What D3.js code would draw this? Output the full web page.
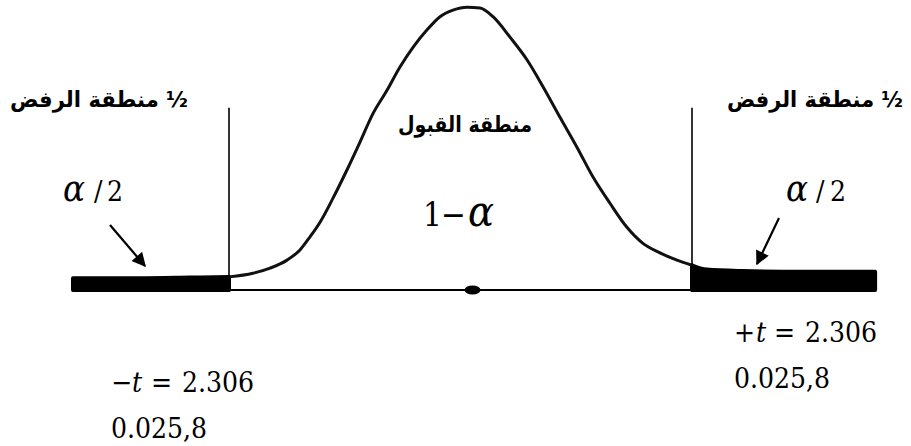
<!DOCTYPE html>
<html><head><meta charset="utf-8">
<script src="https://cdn.jsdelivr.net/npm/d3@7"></script>
<style>body{margin:0;background:#fff}svg{display:block}</style>
</head><body>
<svg id="chart" width="911" height="446"></svg>
<script>
// t distribution with 8 degrees of freedom, two-tailed test at alpha = 0.05
const criticalT = [-2.306, 2.306];

// density of the curve across the acceptance region
const curveT = [-2.306, -2.067, -1.897, -1.728, -1.599, -1.499, -1.399, -1.270, -1.130, -1.001,
  -0.872, -0.732, -0.603, -0.473, -0.333, -0.204, -0.075, 0.065, 0.194, 0.324,
  0.493, 0.662, 0.822, 0.991, 1.160, 1.320, 1.489, 1.658, 1.817, 1.987, 2.156, 2.306];
const curveDensity = [0.018, 0.023, 0.030, 0.041, 0.055, 0.073, 0.093, 0.126, 0.165, 0.203,
  0.242, 0.274, 0.306, 0.333, 0.357, 0.375, 0.384, 0.388, 0.387, 0.375,
  0.347, 0.316, 0.279, 0.237, 0.196, 0.155, 0.119, 0.086, 0.064, 0.051, 0.041, 0.034];

// rejection tails (shaded)
const leftTailT = [-3.86, -3.2, -2.7, -2.306];
const leftTailDensity = [0.016, 0.016, 0.017, 0.018];
const rightTailT = [2.306, 2.45, 2.8, 3.4, 4.13];
const rightTailDensity = [0.034, 0.028, 0.026, 0.025, 0.025];

// centre marker on the axis and the height of the critical-value lines
const meanT = 0.12;
const criticalLineTop = 0.25;

// texts
const rejectLabel = "½ منطقة الرفض";
const acceptLabel = "منطقة القبول";
const confidenceLabel = ["1", "−", "α"];
const tailAreaLabel = ["α", "/", "2"];
const leftCritLabel = ["−", "t", "=", "2.306"];
const rightCritLabel = ["+", "t", "=", "2.306"];
const tableLookup = "0.025,8";

const svg = d3.select("#chart");
const W = 911, H = 446;
svg.append("rect").attr("width", W).attr("height", H).attr("fill", "#fff");

const x = d3.scaleLinear().domain(criticalT).range([229, 692]);
const y = d3.scaleLinear().domain([0, 0.4]).range([290, -1.5]);

const arabic = "'DejaVu Sans', sans-serif";
const serif = "'DejaVu Serif Condensed', 'DejaVu Serif', serif";

// axis line under everything
const axisExtent = [leftTailT[0], rightTailT[rightTailT.length - 1]];
svg.append("line")
  .attr("x1", x(axisExtent[0])).attr("x2", x(axisExtent[1]))
  .attr("y1", y(0)).attr("y2", y(0))
  .attr("stroke", "#000").attr("stroke-width", 2);

// shaded rejection tails
const tailArea = d3.area()
  .x(d => x(d[0])).y0(y(0)).y1(d => y(d[1]))
  .curve(d3.curveMonotoneX);
[[leftTailT, leftTailDensity], [rightTailT, rightTailDensity]].forEach(([ts, ds]) => {
  svg.append("path")
    .datum(ts.map((t, i) => [t, ds[i]]))
    .attr("d", tailArea)
    .attr("fill", "#000").attr("stroke", "#000")
    .attr("stroke-width", 4).attr("stroke-linejoin", "round");
});

// density curve
const line = d3.line().x(d => x(d[0])).y(d => y(d[1])).curve(d3.curveMonotoneX);
svg.append("path")
  .datum(curveT.map((t, i) => [t, curveDensity[i]]))
  .attr("d", line)
  .attr("fill", "none").attr("stroke", "#111")
  .attr("stroke-width", 3).attr("stroke-linecap", "round");

// critical value lines
svg.selectAll("line.crit").data(criticalT).join("line")
  .attr("class", "crit")
  .attr("x1", d => x(d)).attr("x2", d => x(d))
  .attr("y1", y(criticalLineTop)).attr("y2", y(0) + 2)
  .attr("stroke", "#000").attr("stroke-width", 1.6);

// centre marker
svg.append("ellipse")
  .attr("cx", x(meanT)).attr("cy", y(0))
  .attr("rx", 8).attr("ry", 4.5).attr("fill", "#000");

// region labels
function arabicText(str, cx, by, size, len) {
  svg.append("text")
    .attr("x", cx).attr("y", by)
    .attr("text-anchor", "middle")
    .attr("direction", "rtl")
    .style("direction", "rtl")
    .attr("font-family", arabic).attr("font-weight", "bold")
    .attr("font-size", size).attr("fill", "#000")
    .attr("textLength", len).attr("lengthAdjust", "spacingAndGlyphs")
    .text(str);
}
arabicText(rejectLabel, 99, 107, 22, 178);
arabicText(rejectLabel, 815, 107, 22, 176);
arabicText(acceptLabel, 465, 132, 22, 134);

// math labels: pieces laid out left to right; the Greek letter is set a bit larger
function mathText(parts, xs, by, size) {
  const t = svg.append("text").attr("y", by)
    .attr("font-family", serif).attr("font-size", size).attr("fill", "#000");
  parts.forEach((p, i) => {
    t.append("tspan").attr("x", xs[i])
      .attr("font-style", (p === "α" || p === "t") ? "italic" : "normal")
      .attr("font-size", p === "α" ? size * 1.3 : size)
      .text(p);
  });
}
mathText(confidenceLabel, [423, 441, 468], 226, 33);
mathText(tailAreaLabel, [63, 94, 107], 201, 28);
mathText(tailAreaLabel, [786, 816, 830], 201, 28);
mathText(leftCritLabel, [111, 132, 151, 182], 392, 28);
mathText(rightCritLabel, [734, 756, 774, 805], 342, 28);

svg.append("text").attr("x", 111).attr("y", 438)
  .attr("font-family", serif).attr("font-size", 28).text(tableLookup);
svg.append("text").attr("x", 734).attr("y", 388)
  .attr("font-family", serif).attr("font-size", 28).text(tableLookup);

// arrows pointing at the tail areas
const defs = svg.append("defs");
defs.append("marker").attr("id", "head")
  .attr("viewBox", "0 0 10 10").attr("refX", 9).attr("refY", 5)
  .attr("markerWidth", 16).attr("markerHeight", 14)
  .attr("markerUnits", "userSpaceOnUse").attr("orient", "auto")
  .append("path").attr("d", "M0,0L10,5L0,10Z").attr("fill", "#000");

const arrows = [[110, 225, 145, 266], [779, 218, 757, 264]];
svg.selectAll("line.arrow").data(arrows).join("line")
  .attr("class", "arrow")
  .attr("x1", d => d[0]).attr("y1", d => d[1])
  .attr("x2", d => d[2]).attr("y2", d => d[3])
  .attr("stroke", "#000").attr("stroke-width", 2.2)
  .attr("marker-end", "url(#head)");
</script>
</body></html>
